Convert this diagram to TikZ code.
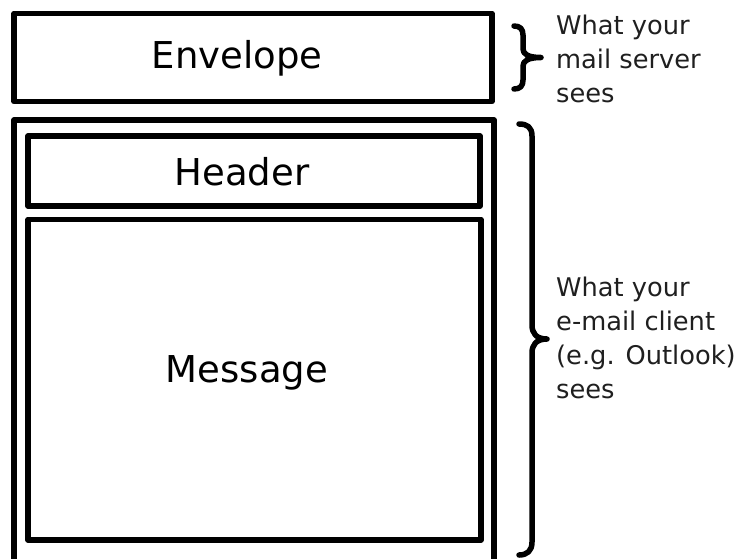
\documentclass[tikz,border=0pt]{standalone}
\usepackage{fontspec}
\setmainfont{DejaVu Sans}
\begin{document}
\begin{tikzpicture}[x=1pt,y=-1pt,
  frame/.style={draw=black,line width=5.5pt,line join=round},
  bigtext/.style={font=\fontsize{37}{44}\selectfont,inner sep=0pt},
  sidetext/.style={font=\fontsize{25.7}{34}\selectfont,align=left,anchor=north west,inner sep=0pt,text=black!88},
  curly/.style={draw=black,line width=5.5pt,line cap=round,line join=round}]
  \useasboundingbox (0,0) rectangle (736,558);
  % envelope
  \draw[frame] (14,13.5) rectangle (492,101.5);
  \node[bigtext] (env) at (237,58.5) {Envelope};
  % outer container with header and message
  \begin{scope}
    \clip (0,0) rectangle (736,558);
    \draw[frame] (14,120) rectangle (494,575);
  \end{scope}
  \draw[frame] (28,136) rectangle (480,206);
  \node[bigtext] (hdr) at (242,172) {Header};
  \draw[frame] (28,219.5) rectangle (481,540);
  \node[bigtext] (msg) at (247,373) {Message};
  % curly braces
  \draw[curly] (514,26) .. controls (520,26) and (523,29) .. (523,35)
    -- (523,49) .. controls (523,54) and (528,57.5) .. (541,57.5)
    .. controls (528,57.5) and (523,61) .. (523,66)
    -- (523,80) .. controls (523,86) and (520,89) .. (514,89);
  \draw[curly] (519,124) .. controls (527,124) and (532,127) .. (532,136)
    -- (532,325) .. controls (532,333) and (536,339) .. (547,339)
    .. controls (536,339) and (532,345) .. (532,353)
    -- (532,542) .. controls (532,551) and (527,555) .. (519,555);
  % annotations
  \node[sidetext] (srv) at (556,15) {What your\\mail server\\sees};
  \node[sidetext] (cli) at (556,277) {What your\\e-mail client\\(e.g. Outlook)\\sees};
\end{tikzpicture}
\end{document}
